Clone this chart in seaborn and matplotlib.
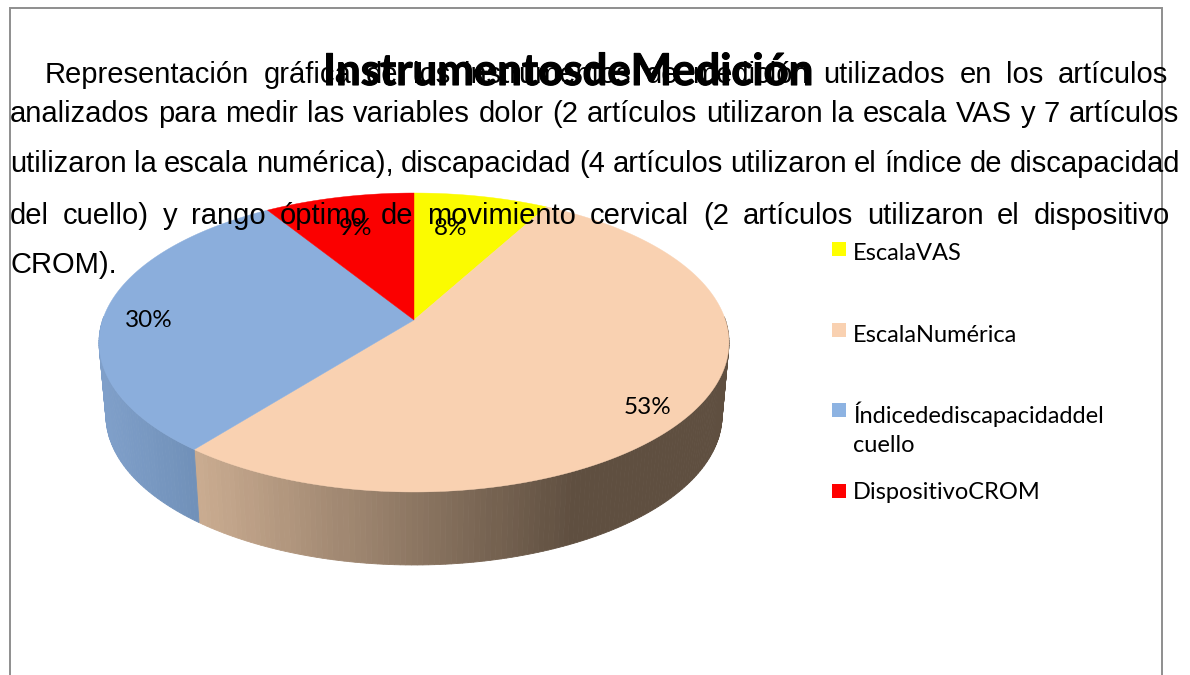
import numpy as np
import matplotlib
matplotlib.use('Agg')
import matplotlib.pyplot as plt
import matplotlib.patheffects as pe
import seaborn as sns

# data
categories = ['EscalaVAS', 'EscalaNumérica', 'Índicedediscapacidaddel\ncuello', 'DispositivoCROM']
percentages = [8, 52.7, 30.4, 8.9]
title = 'InstrumentosdeMedición'
paragraph_lines = [
    'Representación gráfica de los instrumentos de medición utilizados en los artículos',
    'analizados para medir las variables dolor (2 artículos utilizaron la escala VAS y 7 artículos',
    'utilizaron la escala numérica), discapacidad (4 artículos utilizaron el índice de discapacidad',
    'del cuello) y rango óptimo de movimiento cervical (2 artículos utilizaron el dispositivo',
    'CROM).',
]

# layout, in pixels of the 1190x675 picture
top_colors = ['#FBFB00', '#F9D1B1', '#8BAEDC', '#FB0000']
legend_colors = ['#FFFF00', '#F9D1B1', '#8DB3E2', '#FF0000']
side_colors = [('#999900', '#999900'), ('#C9AB90', '#5F4F40'), ('#7F9FC9', '#7090B8'), ('#990000', '#990000')]
side_ranges = [(413, 550), (199, 570), (106, 199), (265, 413)]
label_xy = [(451, 235), (648, 414), (149, 327), (355, 235)]
legend_y = [248.5, 329.5, 409.5, 490.5]
legend_text_y = [260, 342, 423, 499]
text_spans = [(45, 1168), (10, 1179), (10, 1180), (10, 1170), (10, None)]
text_baselines = [83, 122, 172, 224, 273]

CX, CY = 414, 320
RX, RY, PERSP = 311.4, 146.1, 0.1505
DEPTH = 73
BOTTOM_SCALE = 0.978

sns.set_theme(style='white')
plt.rcParams['font.family'] = ['Liberation Sans', 'DejaVu Sans']


def project(theta, radius=1.0, bottom=False):
    # circle seen in perspective, theta is clockwise from the top
    x = radius * np.sin(theta)
    y = radius * np.cos(theta)
    d = 1 + PERSP * y
    scale = BOTTOM_SCALE if bottom else 1.0
    return CX + scale * RX * x / d, CY - RY * y / d + (DEPTH if bottom else 0)


fig = plt.figure(figsize=(11.9, 6.75), dpi=100)
ax = fig.add_axes([0, 0, 1, 1])
ax.set_xlim(0, 1190)
ax.set_ylim(675, 0)
ax.axis('off')

# page frame
ax.plot([9.5, 9.5, 1162, 1162], [675, 8, 8, 675], color='#8E8E8E', lw=1.4, zorder=1, solid_joinstyle='miter')

edges = np.cumsum([0] + percentages) / 100 * 2 * np.pi

# side of the disc, only the part turned to the viewer
for i in range(len(percentages)):
    start, end = edges[i], edges[i + 1]
    ts = np.linspace(start, end, max(int(percentages[i] * 4), 8))
    shades = sns.blend_palette(side_colors[i], n_colors=64)
    for a, b in zip(ts[:-1], ts[1:]):
        if np.cos(a) > 0.02 and np.cos(b) > 0.02:
            continue
        xa, ya = project(a)
        xb, yb = project(b)
        xc, yc = project(b, bottom=True)
        xd, yd = project(a, bottom=True)
        lo, hi = side_ranges[i]
        pos = np.clip((xa + xb + xc + xd) / 4, lo, hi)
        shade = shades[int((pos - lo) / (hi - lo) * 63)]
        ax.fill([xa, xb, xc, xd], [ya, yb, yc, yd], color=shade, lw=0.6, zorder=2)

# top of the disc
for i in range(len(percentages)):
    ts = np.linspace(edges[i], edges[i + 1], 200)
    xs, ys = project(ts)
    ax.fill(np.r_[CX, xs], np.r_[CY, ys], color=top_colors[i], lw=0.3, zorder=3)

for value, (x, y) in zip(percentages, label_xy):
    ax.text(x, y, f'{round(value)}%', ha='center', va='baseline', fontsize=17.5, color='black',
            family=['Lato', 'DejaVu Sans'], zorder=4)

# legend, spaced by hand like the original
palette = sns.color_palette(legend_colors)
for name, color, ym, yt in zip(categories, palette, legend_y, legend_text_y):
    ax.scatter([838.5], [ym], marker='s', s=116, color=color, linewidths=0, zorder=4)
    ax.text(853, yt, name.split('\n')[0], ha='left', va='baseline', fontsize=17, color='black',
            family=['Lato', 'DejaVu Sans'], zorder=4)
    if '\n' in name:
        ax.text(853, yt + 29.5, name.split('\n')[1], ha='left', va='baseline', fontsize=17,
                color='black', family=['Lato', 'DejaVu Sans'], zorder=4)

# justified paragraph, it runs over the pie
fig.canvas.draw()
renderer = fig.canvas.get_renderer()
for line, (left, right), base in zip(paragraph_lines, text_spans, text_baselines):
    words = line.split(' ')
    items = [ax.text(0, base, w, ha='left', va='baseline', fontsize=21, color='black', zorder=5) for w in words]
    widths = [t.get_window_extent(renderer).width for t in items]
    gap = 8 if right is None else (right - left - sum(widths)) / max(len(words) - 1, 1)
    x = left
    for t, w in zip(items, widths):
        t.set_x(x)
        x += w + gap

ax.text(568, 85, title, ha='center', va='baseline', fontsize=31.5, fontweight='bold', color='black',
        family=['Lato', 'DejaVu Sans'], zorder=6,
        path_effects=[pe.withStroke(linewidth=0.8, foreground='black')])

fig.savefig('out.png', dpi=100)
